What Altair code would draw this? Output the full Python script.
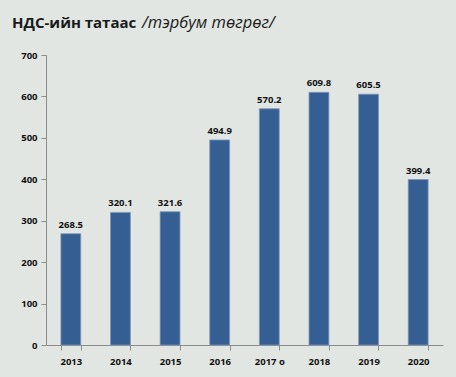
import altair as alt
import pandas as pd

years = ["2013", "2014", "2015", "2016", "2017 о", "2018", "2019", "2020"]
values = [268.5, 320.1, 321.6, 494.9, 570.2, 609.8, 605.5, 399.4]
labels = ["268.5", "320.1", "321.6", "494.9", "570.2", "609.8", "605.5", "399.4"]

df = pd.DataFrame({"year": years, "value": values, "label": labels})

BG = "#E1E6E2"
BAR = "#355E93"
FONT = "Open Sans"

x = alt.X("year:N", sort=years, title=None,
          scale=alt.Scale(paddingInner=0.6, paddingOuter=0.3),
          axis=alt.Axis(labelAngle=0, tickBand="extent", domainColor="#8C8C8C",
                        tickColor="#8C8C8C", tickSize=5, labelFontWeight="bold",
                        labelFontSize=9.5, labelColor="#111111", labelFont=FONT,
                        labelPadding=6))
y = alt.Y("value:Q", title=None,
          scale=alt.Scale(domain=[0, 700], nice=False),
          axis=alt.Axis(values=[0, 100, 200, 300, 400, 500, 600, 700], grid=False,
                        domainColor="#8C8C8C", tickColor="#8C8C8C", tickSize=5,
                        labelFontWeight="bold", labelFontSize=9.5, labelColor="#111111",
                        labelFont=FONT, labelPadding=4))

base = alt.Chart(df)
bars = base.mark_bar(color=BAR, stroke="#7F96B8", strokeWidth=0.8).encode(x=x, y=y)
text = base.mark_text(dy=-9, fontSize=9.5, fontWeight="bold", font=FONT, color="#111111").encode(
    x=alt.X("year:N", sort=years), y="value:Q", text="label:N")

title_bold = alt.Chart(pd.DataFrame({"t": ["НДС-ийн татаас"]})).mark_text(
    align="left", baseline="alphabetic", fontSize=15, fontWeight="bold", font=FONT,
    color="#1a1a1a").encode(x=alt.value(-34), y=alt.value(-27), text="t:N")
title_it = alt.Chart(pd.DataFrame({"t": ["/тэрбум төгрөг/"]})).mark_text(
    align="left", baseline="alphabetic", fontSize=16.5, fontStyle="italic", font=FONT,
    color="#1a1a1a").encode(x=alt.value(96), y=alt.value(-27), text="t:N")

chart = alt.layer(bars, text, title_bold, title_it).properties(
    width=397, height=290, background=BG,
    autosize=alt.AutoSizeParams(type="none"),
    padding={"left": 46, "top": 55, "right": 13, "bottom": 32},
).configure_view(stroke=None)

chart.save("out.html", embed_options={"renderer": "svg", "actions": False})
